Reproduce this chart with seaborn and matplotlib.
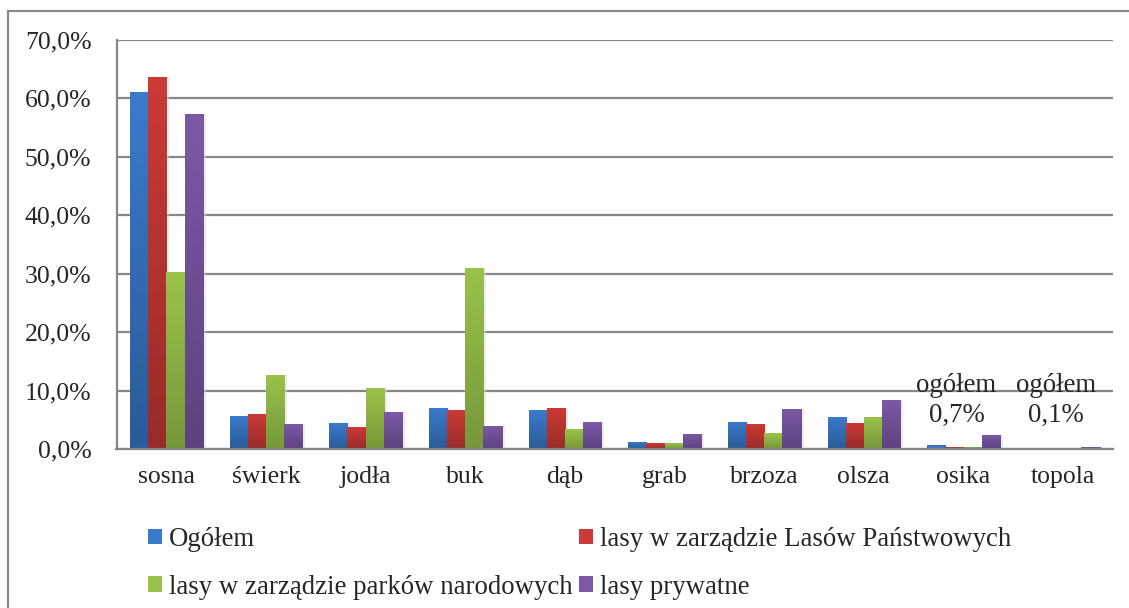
import numpy as np
import pandas as pd
import matplotlib
matplotlib.use("Agg")
import matplotlib.pyplot as plt
import matplotlib.colors as mcolors
from matplotlib.patches import Patch, Rectangle
import seaborn as sns

# udział gatunków (%)
gatunki = ["sosna", "świerk", "jodła", "buk", "dąb", "grab", "brzoza", "olsza", "osika", "topola"]
serie = ["Ogółem", "lasy w zarządzie Lasów Państwowych",
         "lasy w zarządzie parków narodowych", "lasy prywatne"]
ogolem = [61.0, 5.7, 4.4, 7.0, 6.6, 1.2, 4.7, 5.4, 0.7, 0.1]
lasy_panstwowe = [63.6, 5.9, 3.7, 6.6, 7.0, 1.0, 4.3, 4.5, 0.3, 0.0]
parki_narodowe = [30.3, 12.7, 10.4, 31.0, 3.4, 1.0, 2.7, 5.5, 0.3, 0.0]
lasy_prywatne = [57.2, 4.2, 6.3, 4.0, 4.6, 2.6, 6.9, 8.4, 2.4, 0.3]
adnotacje = {"osika": "ogółem\n0,7%", "topola": "ogółem\n0,1%"}

kolory = ["#3b7acb", "#cb3a36", "#9bc24a", "#7c59a6"]
kolory_dol = ["#2b5b98", "#982c29", "#76983a", "#5d4280"]

df = pd.DataFrame({
    "gatunek": gatunki * 4,
    "seria": np.repeat(serie, len(gatunki)),
    "udzial": ogolem + lasy_panstwowe + parki_narodowe + lasy_prywatne,
})

sns.set_style("white")
plt.rcParams["font.family"] = ["Liberation Serif", "DejaVu Serif"]
FS = 18.5
FS_LEG = 19.3

fig = plt.figure(figsize=(11.29, 6.08), dpi=100)
ax = fig.add_axes([116.5 / 1129, 1 - 449 / 608, (1113 - 116.5) / 1129, (449 - 39.5) / 608])

sns.barplot(data=df, x="gatunek", y="udzial", hue="seria", hue_order=serie,
            palette=kolory, width=0.73, saturation=1, legend=False, ax=ax,
            linewidth=0, zorder=3)

# gradient i cień pod słupkami
bars = [p for p in ax.patches]
for i, p in enumerate(bars):
    k = i // len(gatunki)
    x0, y0 = p.get_x(), p.get_y()
    w, h = p.get_width(), p.get_height()
    if h <= 0:
        continue
    p.set_edgecolor(kolory_dol[k])
    p.set_linewidth(0.6)
    ax.add_patch(Rectangle((x0 + 0.03, y0), w, h, facecolor="#dddddd",
                           edgecolor="none", alpha=0.5, zorder=2))
    if h < 1:
        continue
    cmap = mcolors.LinearSegmentedColormap.from_list("g", [kolory_dol[k], kolory[k]])
    grad = np.linspace(0, 1, 64).reshape(-1, 1)
    im = ax.imshow(grad, cmap=cmap, aspect="auto", origin="lower",
                   extent=(x0, x0 + w, y0, y0 + h), zorder=4)
    im.set_clip_path(p)

ax.set_xlim(-0.5, len(gatunki) - 0.5)
ax.set_ylim(0, 70)
ax.set_yticks(range(0, 71, 10))
ax.set_yticklabels([f"{v},0%" for v in range(0, 71, 10)], fontsize=FS)
ax.set_xticks(range(len(gatunki)))
ax.set_xticklabels(gatunki, fontsize=FS)
ax.tick_params(axis="both", length=0)
ax.tick_params(axis="y", pad=18)
ax.tick_params(axis="x", pad=12)
ax.set_xlabel("")
ax.set_ylabel("")
ax.grid(axis="y", color="#878787", linewidth=1.6, zorder=0)
ax.set_axisbelow(True)
for s in ["top", "right"]:
    ax.spines[s].set_visible(False)
for s in ["left", "bottom"]:
    ax.spines[s].set_color("#878787")
    ax.spines[s].set_linewidth(1.6)
    ax.spines[s].set_zorder(5)

for g, txt in adnotacje.items():
    xi = gatunki.index(g)
    ax.text(xi - 0.07, 8.3, txt, ha="center", va="center", fontsize=FS_LEG,
            linespacing=1.3, zorder=6)

# legenda wierszami: kolejność dla ncol=2
kolejnosc = [0, 2, 1, 3]
uchwyty = [Patch(facecolor=kolory[j], edgecolor="none") for j in kolejnosc]
fig.legend(uchwyty, [serie[j] for j in kolejnosc], loc="upper left",
           bbox_to_anchor=(148 / 1129, 1 - 527 / 608),
           ncol=2, frameon=False, fontsize=FS_LEG, borderpad=0, borderaxespad=0,
           handlelength=0.53, handleheight=0.53, handletextpad=0.25,
           columnspacing=0.25, labelspacing=0.85)

# ramka obszaru wykresu
fig.add_artist(Rectangle((7.5 / 1129, -0.05), 1.1, 1.05 - 10.5 / 608,
                         transform=fig.transFigure, fill=False,
                         edgecolor="#878787", linewidth=1.5))

fig.savefig("out.png", dpi=100)
